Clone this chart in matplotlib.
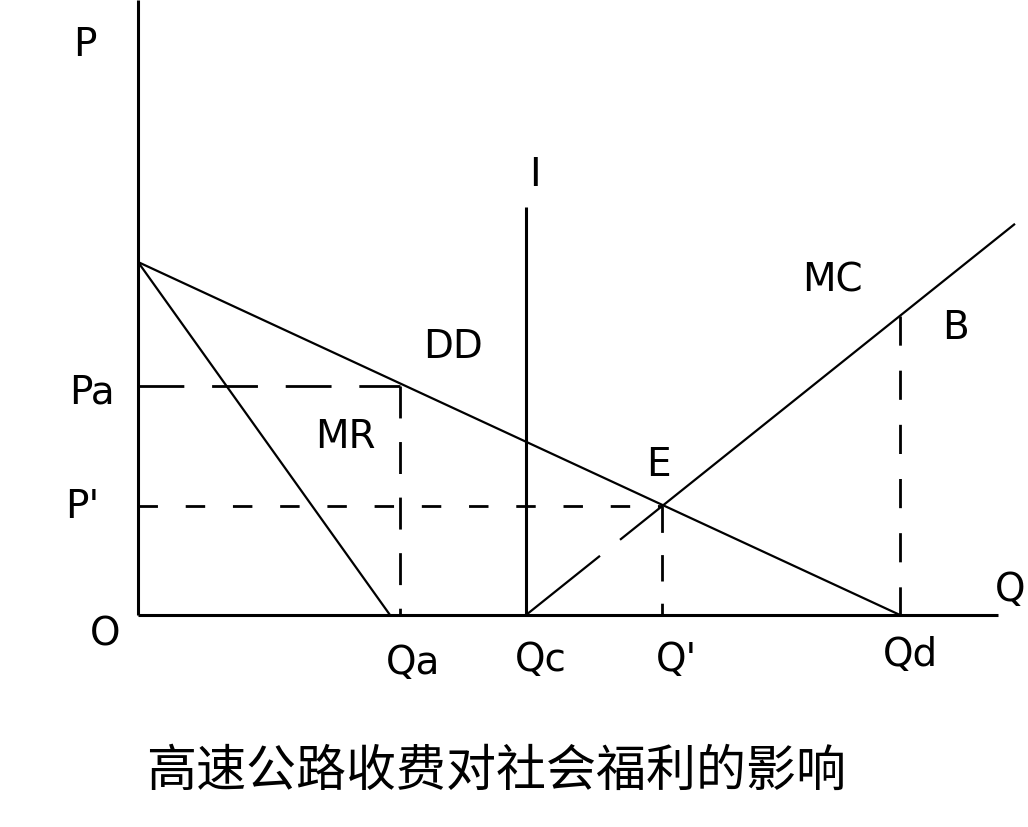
import matplotlib
matplotlib.use("Agg")
import matplotlib.pyplot as plt
import numpy as np

plt.rcParams['font.family'] = ['DejaVu Sans', 'Noto Sans CJK SC']
plt.rcParams['lines.scale_dashes'] = False

# ---- data (economic units, origin O) ----
p_intercept = 353          # DD and MR intercept on P axis
q_mr_zero = 252            # MR meets Q axis
Qa, Qc, Qp, Qd = 262, 388, 524, 762
Pa, Pp = 229, 109
mc_slope = 0.80
mc_end_q = 877
mc_gap = [462, 482]
i_top = 408
p_axis_top = 615
q_axis_end = 860
title = "高速公路收费对社会福利的影响"

def dd(q):
    return p_intercept - p_intercept / Qd * q

def mc(q):
    return mc_slope * (np.asarray(q) - Qc)

fig = plt.figure(figsize=(10.28, 8.27), dpi=100)
ax = fig.add_axes([0, 0, 1, 1])
ax.set_xlim(-138, 890)
ax.set_ylim(-212, 615)
ax.axis('off')

k = dict(color='black', solid_capstyle='butt', dash_capstyle='butt')
# axes
ax.plot([0, 0], [0, p_axis_top], lw=2.2, **k)
ax.plot([0, q_axis_end], [0, 0], lw=2.2, **k)
# DD and MR
ax.plot([0, Qd], [p_intercept, dd(Qd)], lw=1.6, **k)
ax.plot([0, q_mr_zero], [p_intercept, 0], lw=1.6, **k)
# I line
ax.plot([Qc, Qc], [0, i_top], lw=2.2, **k)
# MC with small gap
ax.plot([Qc, mc_gap[0]], [mc(Qc), mc(mc_gap[0])], lw=1.6, **k)
ax.plot([mc_gap[1], mc_end_q], [mc(mc_gap[1]), mc(mc_end_q)], lw=1.6, **k)
# dashed guides
ax.plot([0, Qa], [Pa, Pa], lw=2.0, dashes=(33, 20), **k)
ax.plot([Qa, Qa], [Pa, 0], lw=2.0, dashes=(23, 17), **k)
ax.plot([0, Qp], [Pp, Pp], lw=2.0, dashes=(14, 20), **k)
ax.plot([Qp, Qp], [Pp, 0], lw=2.0, dashes=(19, 16), **k)
ax.plot([Qd, Qd], [mc(Qd), 0], lw=2.0, dashes=(21, 18), **k)

fs = 28
def lab(px, py, s, size=fs):
    ax.text(px - 138, 615 - py, s, fontsize=size, ha='center', va='center', color='black')

lab(85, 45, "P")
lab(92, 393, "Pa")
lab(82, 507, "P'")
lab(105, 635, "O")
lab(413, 663, "Qa")
lab(541, 660, "Qc")
lab(677, 660, "Q'")
lab(910, 655, "Qd")
lab(1010, 590, "Q")
lab(535, 175, "I")
lab(832, 280, "MC")
lab(955, 328, "B")
lab(453, 347, "DD")
lab(345, 437, "MR")
lab(658, 465, "E")
ax.text(496 - 138, 615 - 772, title, fontsize=36, ha='center', va='center',
        family=['Noto Sans CJK SC', 'DejaVu Sans'], color='black')

fig.savefig("out.png", dpi=100)
